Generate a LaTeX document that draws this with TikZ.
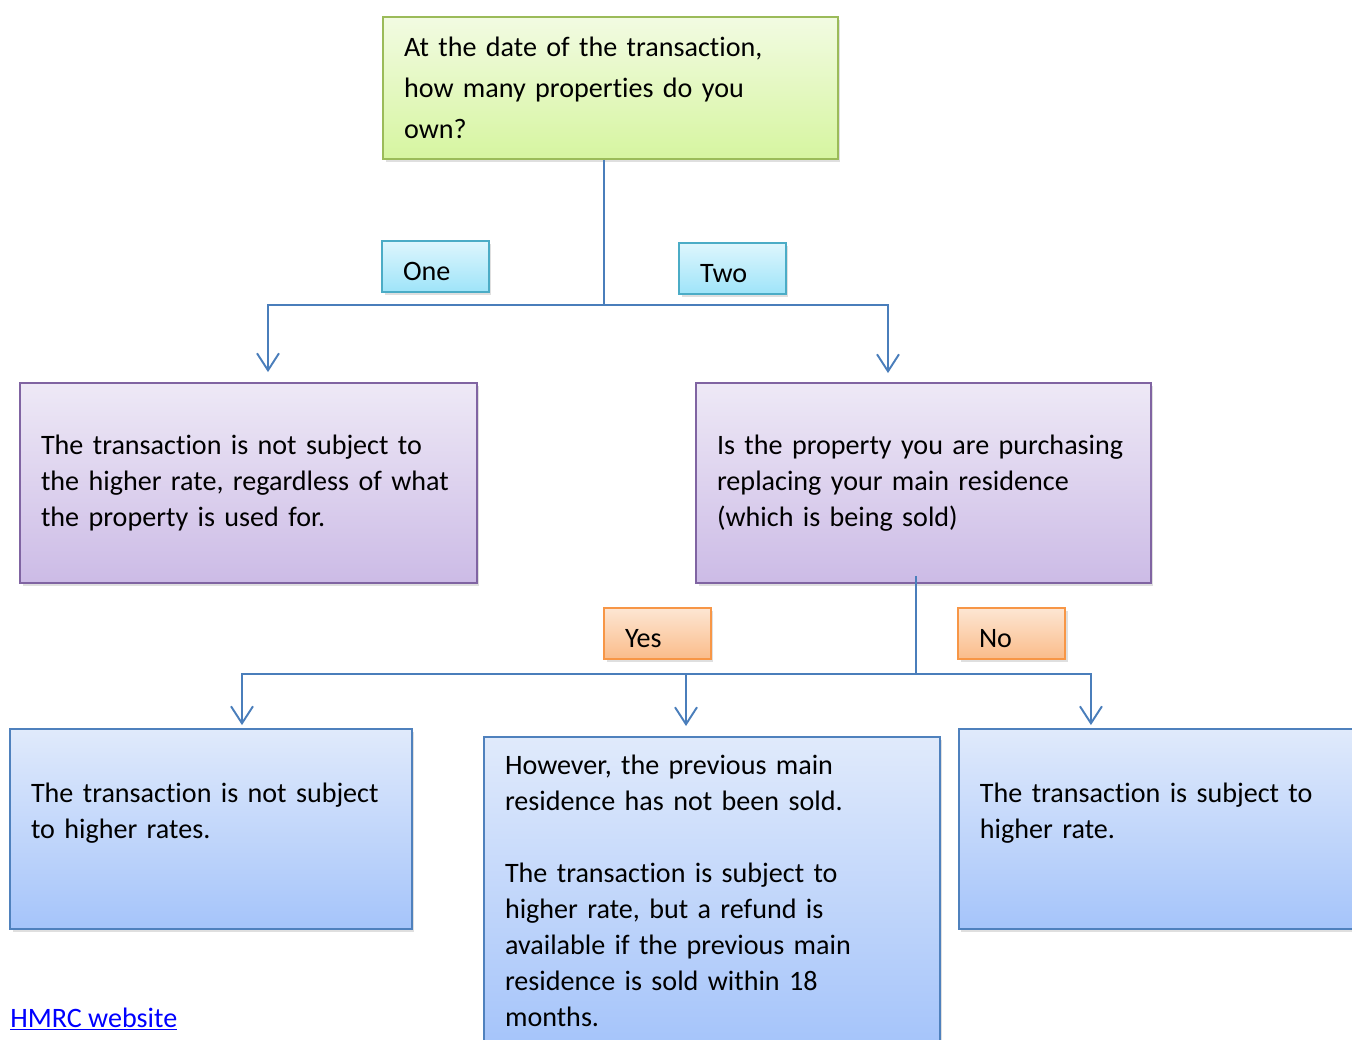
\documentclass[tikz,border=0pt]{standalone}
\usepackage{fontspec}
\setmainfont{Carlito}[Ligatures=NoCommon]
\usetikzlibrary{arrows.meta,shadows}
\definecolor{linkblue}{RGB}{74,126,187}
\definecolor{greenline}{RGB}{155,187,89}
\definecolor{greentop}{RGB}{242,251,226}
\definecolor{greenbot}{RGB}{214,245,160}
\definecolor{cyanline}{RGB}{75,172,198}
\definecolor{cyantop}{RGB}{222,246,253}
\definecolor{cyanbot}{RGB}{158,228,249}
\definecolor{purpleline}{RGB}{128,100,162}
\definecolor{purpletop}{RGB}{238,233,246}
\definecolor{purplebot}{RGB}{204,187,230}
\definecolor{orangeline}{RGB}{247,150,70}
\definecolor{orangetop}{RGB}{253,230,211}
\definecolor{orangebot}{RGB}{250,188,138}
\definecolor{blueline}{RGB}{79,129,189}
\definecolor{bluetop}{RGB}{224,234,251}
\definecolor{bluebot}{RGB}{165,196,250}
\definecolor{hyperblue}{RGB}{0,0,255}
\tikzset
{
    basenode/.style   = {rectangle, align=left, inner xsep=0.42cm, line width=1.1pt, font=\fontsize{16}{20.5}\selectfont, drop shadow={shadow xshift=0.05cm, shadow yshift=-0.06cm, opacity=0.25}},
    questionnode/.style = {basenode, draw=greenline, top color=greentop, bottom color=greenbot, text width=8.26cm, minimum height=2.84cm, font=\fontsize{16}{23.4}\selectfont},
    countnode/.style  = {basenode, draw=cyanline, top color=cyantop, bottom color=cyanbot, text width=1.3cm, minimum height=1.02cm, text height=15.5pt, text depth=0pt},
    checknode/.style  = {basenode, draw=purpleline, top color=purpletop, bottom color=purplebot, minimum height=4cm},
    answernode/.style = {basenode, draw=orangeline, top color=orangetop, bottom color=orangebot, text width=1.3cm, minimum height=1.02cm, text height=15.5pt, text depth=0pt},
    resultnode/.style = {basenode, draw=blueline, top color=bluetop, bottom color=bluebot},
    link/.style       = {draw=linkblue, line width=1.1pt},
    linkarrow/.style  = {link, -{Straight Barb[length=0.34cm, width=0.44cm]}}
}

\begin{document}
\begin{tikzpicture}[x=0.02cm, y=-0.02cm]
\useasboundingbox (0,0) rectangle (1352,1039);

% question and number of properties
\node[questionnode] (q1) at (610.5,88) {At the date of the transaction,\\how many properties do you\\own?};
\node[countnode] (one) at (435.5,266.5) {One};
\node[countnode] (two) at (732.5,268.5) {Two};

\node[checknode, text width=8.3cm] (notsubj) at (248.5,483) {The transaction is not subject to\\the higher rate, regardless of what\\the property is used for.};
\node[checknode, text width=8.26cm] (q2) at (923.5,483) {Is the property you are purchasing\\replacing your main residence\\(which is being sold)};

% replacing main residence?
\node[answernode] (yes) at (657.5,633.5) {Yes};
\node[answernode] (no) at (1011.5,633.5) {No};

\node[resultnode, text width=7.2cm, minimum height=4cm] (norate) at (211,829) {The transaction is not subject\\to higher rates.\\~};
\node[resultnode, text width=8.28cm, inner ysep=0.36cm, anchor=north] (refund) at (712,736) {However, the previous main\\residence has not been sold.\\[20.5pt]The transaction is subject to\\higher rate, but a refund is\\available if the previous main\\residence is sold within 18\\months.};
\node[resultnode, text width=8.26cm, minimum height=4cm, anchor=west] (rate) at (958,829) {The transaction is subject to\\higher rate.\\~};

\node[anchor=base west, inner sep=0pt, text=hyperblue, font=\fontsize{16}{20.5}\selectfont] (hmrc) at (10,1027) {\underline{HMRC website}};

% connectors
\coordinate (j1) at (604,305);
\coordinate (j2) at (916,674);
\draw[link] (j1 |- q1.south) -- (j1);
\draw[linkarrow, shorten >=0.2cm] (j1) -| ([xshift=0.39cm]notsubj.north);
\draw[linkarrow, shorten >=0.18cm] (j1) -| ([xshift=-0.71cm]q2.north);
\draw[link] ([yshift=0.16cm]j2 |- q2.south) -- (j2);
\draw[linkarrow, shorten >=0.06cm] (j2) -| ([xshift=0.62cm]norate.north);
\draw[linkarrow, shorten >=0.2cm] (j2) -| ([xshift=-0.52cm]refund.north);
\draw[linkarrow, shorten >=0.06cm] (j2) -| ([xshift=-1.91cm]rate.north);
\end{tikzpicture}
\end{document}
